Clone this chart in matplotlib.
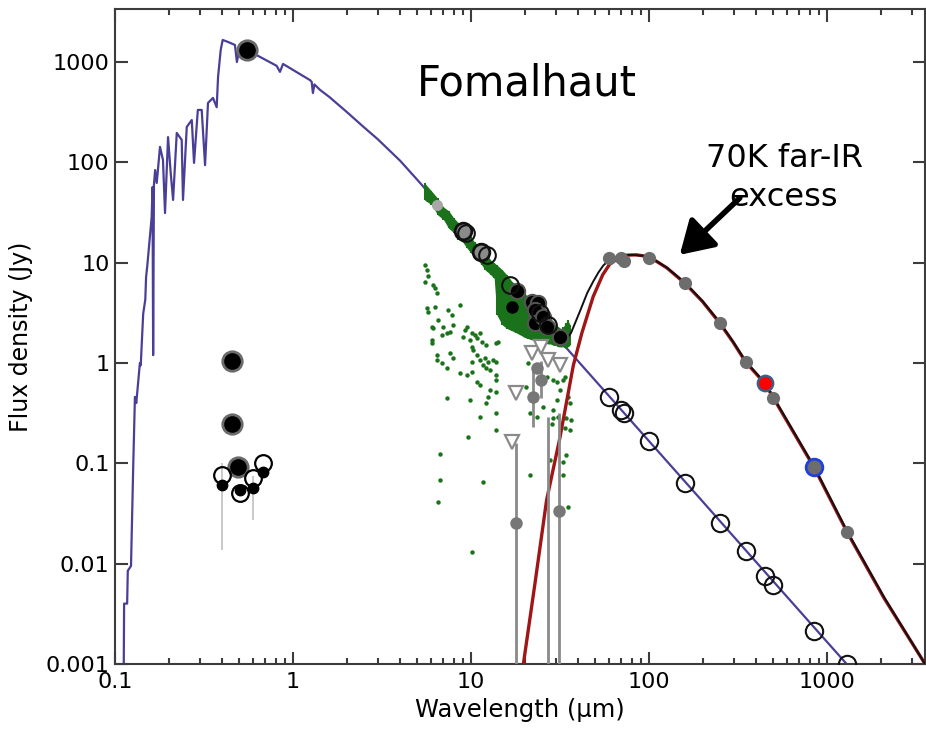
import matplotlib
matplotlib.use("Agg")
import matplotlib.pyplot as plt
from matplotlib.ticker import FixedLocator, FixedFormatter, LogLocator, NullLocator

# stellar photosphere model (um, Jy)
phot_wl = [0.112, 0.1125, 0.117, 0.118, 0.123, 0.1267, 0.1294, 0.1317, 0.138, 0.1395,
           0.144, 0.148, 0.1495, 0.152, 0.1607, 0.1625, 0.1638, 0.1655, 0.168, 0.1716,
           0.179, 0.186, 0.191, 0.1986, 0.2056, 0.212, 0.2223, 0.237, 0.241, 0.253,
           0.27, 0.278, 0.292, 0.307, 0.3206, 0.333, 0.3553, 0.3727, 0.3793, 0.3926,
           0.4027, 0.4315, 0.472, 0.484, 0.503, 0.625, 0.809, 0.845, 0.879, 1.25,
           1.274, 1.294, 1.32, 1.419, 1.6, 2.0, 2.5, 3.0, 4.0, 5.0,
           6.0, 8.0, 10, 20, 40, 60, 100, 200, 400, 800, 1500]
phot_flux = [0.001, 0.004, 0.004, 0.0085, 0.0095, 0.1, 0.46, 0.40, 1.0, 0.95,
             3.1, 4.3, 7.2, 9.5, 28.6, 57, 1.2, 60, 84, 62.5,
             143, 106, 31.3, 179, 78.5, 42.3, 197, 168, 42.3, 226,
             265, 99, 334, 334, 94, 392, 440, 355, 711, 1324,
             1665, 1590, 1484, 1004, 1417, 1175, 920, 800, 960, 660,
             635, 493, 600, 529, 450, 320, 225, 170, 104, 67,
             46.4, 26.1, 16.7, 4.18, 1.044, 0.464, 0.167, 0.0418, 0.0104, 0.0026, 0.00074]

# IRS spectrum envelope
irs_wl = [5.5, 6.0, 6.5, 7.0, 7.5, 8.0, 8.5, 9.0, 9.5, 10, 10.5, 11, 11.5, 12, 12.5, 13, 13.5,
          14, 15, 16, 17, 18, 19, 20, 21, 22, 23, 24, 25, 26, 27, 28, 29, 30, 31, 32, 33, 34, 35, 36]
irs_hi = [62, 52, 44, 36, 33, 28, 25, 22, 20, 18, 16, 15, 13.5, 12.5, 11.5, 10.5, 10,
          9.5, 8.5, 7.5, 6.5, 6, 5.3, 5, 4.5, 4.2, 3.8, 3.5, 3.3, 3.0, 2.8, 2.7, 2.5, 2.4, 2.3, 2.2, 2.3, 2.5, 2.7, 2.4]
irs_lo = [42, 38, 30, 27, 22, 20, 17, 16, 14, 12.5, 11.5, 10.5, 9.5, 8.5, 8, 7.5, 7,
          3.0, 2.4, 2.2, 2.1, 2.0, 1.9, 1.8, 1.75, 1.7, 1.7, 1.65, 1.6, 1.6, 1.55, 1.55, 1.5, 1.5, 1.45, 1.45, 1.45, 1.4, 1.45, 1.5]

# scattered green spectrum points
dot_wl = [5.52, 5.64, 5.76, 5.52, 6.15, 6.28, 6.42,
          5.64, 6.28, 8.67, 5.75, 7.46, 7.79, 6.55, 6.01, 6.14, 6.99, 7.30, 6.84, 7.62, 7.96,
          9.25, 9.46, 10.09, 10.5, 11.2, 9.06, 9.87, 10.8, 11.5, 12.2, 10.09, 14.2, 13.9,
          6.01, 6.01, 6.41, 6.41, 6.84, 7.30, 7.96, 7.62, 8.67, 9.46, 10.09, 10.3, 10.8,
          11.2, 12.0, 12.5, 11.7, 12.8, 13.3, 13.9, 12.2, 13.9, 13.9, 10.09, 10.8, 11.2,
          12.8, 13.9, 12.5, 12.2, 7.30, 9.87, 11.2, 13.9, 13.9, 9.66, 6.69, 6.69, 6.55,
          11.7, 10.09, 21.0, 20.5, 21.4, 23.4, 25.5, 29.0, 30.3, 33.0, 33.7, 31.6, 35.2,
          36.0, 34.4, 36.7, 36.0, 33.7, 34.4, 33.0, 27.8, 29.0, 35.2, 21.4, 33.0, 30.3,
          29.0, 26.6, 31.0, 28.4]
dot_flux = [9.5, 8.5, 7.3, 6.5, 6.0, 5.6, 5.0,
            3.52, 3.66, 3.79, 3.26, 3.38, 3.01, 2.69, 2.31, 2.22, 2.31, 1.98, 1.91, 2.06, 2.40,
            2.14, 2.31, 1.98, 1.91, 1.98, 1.84, 1.70, 1.77, 1.64, 1.51, 1.46, 1.64, 1.57,
            1.70, 1.57, 1.20, 1.07, 0.995, 0.887, 1.12, 1.25, 0.791, 0.761, 1.03, 1.35, 1.20,
            1.07, 1.12, 1.03, 0.957, 0.853, 1.07, 1.03, 0.887, 0.761, 0.679, 0.822, 0.653, 0.605,
            0.540, 0.519, 0.463, 0.397, 0.446, 0.429, 0.293, 0.316, 0.215, 0.185, 0.124, 0.0684, 0.0416,
            0.0658, 0.0132, 0.995, 0.582, 0.316, 0.293, 0.368, 0.341, 0.429, 0.679, 0.732, 0.540, 0.463,
            0.397, 0.282, 0.271, 0.215, 0.224, 0.121, 0.104, 0.108, 0.282, 0.0371, 0.0768, 0.0768, 0.653,
            0.679, 0.732, 0.293, 0.245]

# 70 K dust blackbody and total model
bb_wl = [19.7, 22.9, 26.6, 31.6, 37.6, 42, 48.6, 55, 60, 67, 75, 85, 100, 126, 160, 200,
         250, 296, 350, 450, 500, 850, 1300, 2100, 3560]
bb_flux = [0.001, 0.0064, 0.043, 0.18, 0.95, 2.0, 4.6, 7.6, 9.6, 11.1, 11.9, 12.0, 11.5, 8.9,
           6.2, 4.1, 2.5, 1.63, 1.02, 0.62, 0.45, 0.09, 0.0205, 0.0045, 0.001]
tot_wl = [35, 36.5, 41, 45, 48.6, 52, 55.4, 60, 70, 80, 100, 126, 160, 200,
          250, 296, 350, 450, 500, 850, 1300, 2100, 3560]
tot_flux = [1.8, 2.0, 3.3, 5.0, 6.5, 8.0, 9.4, 10.7, 11.8, 12.0, 11.6, 8.95,
            6.3, 4.15, 2.55, 1.65, 1.04, 0.63, 0.46, 0.092, 0.021, 0.0046, 0.001]

# photometry
ring_wl = [0.55, 0.454, 0.454, 0.493]
ring_flux = [1324, 1.05, 0.247, 0.0927]
opt_open_wl = [0.397, 0.503, 0.598, 0.681]
opt_open_flux = [0.0766, 0.0503, 0.071, 0.1002]
opt_dot_flux = [0.061, 0.0543, 0.0565, 0.0826]
opt_err_wl = [0.397, 0.598]
opt_err_lo = [0.0137, 0.0272]
opt_err_hi = [0.1, 0.075]

rj_wl = [60, 70, 72, 100, 160, 250, 350, 450, 500, 850, 1300]
rj_flux = [0.46, 0.34, 0.32, 0.167, 0.064, 0.0255, 0.0134, 0.0075, 0.0061, 0.00213, 0.001]

fir_wl = [60, 70, 72, 100, 160, 250, 350, 500, 1300]
fir_flux = [11.1, 11.1, 10.3, 11.1, 6.25, 2.53, 1.03, 0.452, 0.0208]
red_pt = (450, 0.63)
blue_pt = (850, 0.0914)

mir_gray_wl = [8.98, 11.4]
mir_gray_flux = [20.9, 12.9]
mir_open_wl = [9.38, 12.25, 16.6, 24.4, 27.2]
mir_open_flux = [19.97, 12.0, 6.0, 3.14, 2.4]
mir_ring_wl = [18.1, 21.9, 23.9, 22.9, 22.9, 25.5, 26.6, 31.6]
mir_ring_flux = [5.27, 4.09, 3.94, 3.38, 2.49, 2.9, 2.31, 1.83]
light_pt = (6.44, 37.7)
small_pt = (16.9, 3.65)

tri_wl = [16.9, 18.0, 21.9, 24.9, 27.2, 31.6]
tri_flux = [0.165, 0.50, 1.25, 1.46, 1.07, 0.957]
gdot_wl = [18.0, 22.2, 23.4, 24.9, 31.3]
gdot_flux = [0.0253, 0.463, 0.887, 0.679, 0.0338]
ebar_wl = [18.0, 22.2, 24.9, 27.2, 31.3]
ebar_lo = [0.0009, 0.233, 0.45, 0.0009, 0.0009]
ebar_hi = [0.16, 0.92, 1.05, 0.29, 0.316]

xticks = [0.1, 1, 10, 100, 1000]
xticklabels = ["0.1", "1", "10", "100", "1000"]
yticks = [0.001, 0.01, 0.1, 1, 10, 100, 1000]
yticklabels = ["0.001", "0.01", "0.1", "1", "10", "100", "1000"]

purple = "#4a3f96"
green = "#1a731a"
axc = "#3c3c3c"

fig = plt.figure(figsize=(9.26, 7.39), dpi=100)
ax = fig.add_axes([115 / 926, 75 / 739, 810 / 926, 655 / 739])
ax.set_xscale("log")
ax.set_yscale("log")
ax.set_xlim(0.1, 3556)
ax.set_ylim(0.001, 3388)

# model curves
ax.plot(phot_wl, phot_flux, color=purple, lw=1.6, zorder=2)
ax.fill_between(irs_wl, irs_lo, irs_hi, color=green, lw=0, zorder=3)
ax.vlines(irs_wl, irs_lo, irs_hi, color=green, lw=1.5, zorder=3)
ax.plot(dot_wl, dot_flux, ls="none", marker="o", ms=3.2, color=green, mec="none", zorder=3)
ax.plot(bb_wl, bb_flux, color="#a01515", lw=2.4, zorder=4)
ax.plot(tot_wl, tot_flux, color="#111111", lw=1.4, zorder=5)

# error bars and upper limits
ax.vlines(opt_err_wl, opt_err_lo, opt_err_hi, color="#c0c0c0", lw=1.2, zorder=4)
ax.vlines(ebar_wl, ebar_lo, ebar_hi, color="#8a8a8a", lw=2, zorder=4)
ax.plot(tri_wl, tri_flux, ls="none", marker="v", ms=10, mfc="white", mec="#8a8a8a", mew=1.6, zorder=6)
ax.plot(gdot_wl, gdot_flux, ls="none", marker="o", ms=9, color="#777777", mec="none", zorder=6)

# photometry
ax.plot(ring_wl, ring_flux, ls="none", marker="o", ms=14, mfc="black", mec="#6a6a6a", mew=2, zorder=7)
ax.plot(opt_open_wl, opt_open_flux, ls="none", marker="o", ms=12, mfc="none", mec="black", mew=1.6, zorder=7)
ax.plot(opt_open_wl, opt_dot_flux, ls="none", marker="o", ms=7.5, color="black", zorder=7)
ax.plot(rj_wl, rj_flux, ls="none", marker="o", ms=12.5, mfc="none", mec="#111111", mew=1.5, zorder=7)
ax.plot(fir_wl, fir_flux, ls="none", marker="o", ms=9.5, color="#6d6d6d", mec="none", zorder=7)
ax.plot(*red_pt, ls="none", marker="o", ms=11, mfc="#ff0000", mec="#3e5d87", mew=1.8, zorder=8)
ax.plot(*blue_pt, ls="none", marker="o", ms=12, mfc="#6d6d6d", mec="#1f3fe0", mew=2, zorder=8)
ax.plot(*light_pt, ls="none", marker="o", ms=8, color="#a8a8a8", mec="none", zorder=7)
ax.plot(mir_gray_wl, mir_gray_flux, ls="none", marker="o", ms=12, mfc="#8a8a8a", mec="#111111", mew=2, zorder=7)
ax.plot(mir_open_wl, mir_open_flux, ls="none", marker="o", ms=12, mfc="none", mec="#111111", mew=1.5, zorder=8)
ax.plot(mir_ring_wl, mir_ring_flux, ls="none", marker="o", ms=11, mfc="black", mec="#555555", mew=1.5, zorder=7)
ax.plot(*small_pt, ls="none", marker="o", ms=8, color="black", zorder=7)

# axes styling
ax.xaxis.set_major_locator(FixedLocator(xticks))
ax.xaxis.set_major_formatter(FixedFormatter(xticklabels))
ax.xaxis.set_minor_locator(LogLocator(base=10, subs=range(2, 10), numticks=20))
ax.yaxis.set_major_locator(FixedLocator(yticks))
ax.yaxis.set_major_formatter(FixedFormatter(yticklabels))
ax.yaxis.set_minor_locator(NullLocator())
ax.tick_params(which="both", direction="in", top=True, right=True, colors=axc, labelcolor="black", width=1.5)
ax.tick_params(which="major", length=9, labelsize=16, pad=4)
ax.tick_params(which="minor", length=4.5)
ax.tick_params(axis="x", which="major", pad=6)
for s in ax.spines.values():
    s.set_color(axc)
    s.set_linewidth(1.5)

ax.set_xlabel("Wavelength (µm)", fontsize=17.5, labelpad=4)
ax.set_ylabel("Flux density (Jy)", fontsize=17, labelpad=9)

ax.text(0.5086, 0.8687, "Fomalhaut", transform=ax.transAxes, fontsize=30,
        ha="center", va="baseline")
ax.text(0.826, 0.742, "70K far-IR\nexcess", transform=ax.transAxes, fontsize=23,
        ha="center", va="center", multialignment="center", linespacing=1.3)
ax.annotate("", xy=(149, 12.0), xytext=(324, 44.3),
            arrowprops=dict(arrowstyle="-|>,head_length=0.9,head_width=0.55",
                            lw=4, color="black", mutation_scale=22, shrinkA=0, shrinkB=0))

fig.savefig("out.png", dpi=100)
